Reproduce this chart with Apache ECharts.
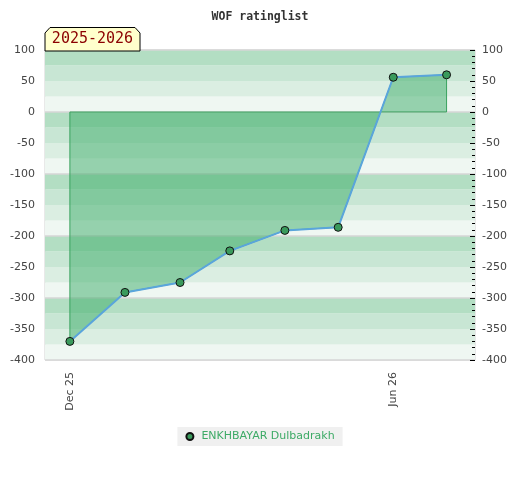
<!DOCTYPE html>
<html>
<head>
<meta charset="utf-8">
<script src="https://cdn.jsdelivr.net/npm/echarts@6/dist/echarts.min.js"></script>
<style>html,body{margin:0;padding:0;background:#fff}#c{width:520px;height:480px}</style>
</head>
<body>
<div id="c"></div>
<script>
// ---- data ----
const titleText = 'WOF ratinglist';
const seasonLabel = '2025-2026';
const playerName = 'ENKHBAYAR Dulbadrakh';
const months = ['2025-12-01','2026-01-01','2026-02-01','2026-03-01','2026-04-01','2026-05-01','2026-06-01','2026-07-01'];
const ratings = [-370, -291, -275, -224, -191, -186, 56, 60];
const xLabelDates = ['2025-12-01','2026-06-01'];
const xRange = ['2025-11-17','2026-07-17'];
const yMin = -400, yMax = 100, yStep = 50;

const ts = s => { const p = s.split('-').map(Number); return Date.UTC(p[0], p[1]-1, p[2]); };
const MON = ['Jan','Feb','Mar','Apr','May','Jun','Jul','Aug','Sep','Oct','Nov','Dec'];
const fmtDate = v => { const d = new Date(v); return MON[d.getUTCMonth()] + ' ' + String(d.getUTCFullYear()).slice(2); };

const points = months.map((m, i) => [ts(m), ratings[i]]);
const labelFont = 'DejaVu Sans';

const chart = echarts.init(document.getElementById('c'), null, {renderer: 'canvas'});
chart.setOption({
  animation: false,
  backgroundColor: '#fff',
  title: {
    text: titleText, left: 'center', top: 6,
    textStyle: {fontFamily: 'DejaVu Sans Mono', fontSize: 11.5, fontWeight: 'bold', color: '#333'}
  },
  grid: {left: 45, right: 45, top: 50, bottom: 120, show: true, borderColor: '#d2d2d2', borderWidth: 1, backgroundColor: 'transparent'},
  legend: {
    left: 'center', top: 427, padding: [4, 8, 4, 8], backgroundColor: '#f0f0f0',
    itemWidth: 7, itemHeight: 7,
    data: [{name: playerName, icon: 'circle'}],
    textStyle: {fontFamily: labelFont, fontSize: 11, color: '#3daa66', padding: [0, 0, 0, 3]}
  },
  xAxis: {
    type: 'value', min: ts(xRange[0]), max: ts(xRange[1]),
    axisLine: {show: false}, axisTick: {show: false}, splitLine: {show: false},
    axisLabel: {
      customValues: xLabelDates.map(ts), rotate: 90, margin: 12,
      formatter: v => fmtDate(v),
      fontFamily: labelFont, fontSize: 11, color: '#444'
    }
  },
  yAxis: [
    {
      type: 'value', position: 'left', min: yMin, max: yMax, interval: yStep,
      axisLine: {show: false}, axisTick: {show: false}, splitLine: {show: false},
      axisLabel: {margin: 10, fontFamily: labelFont, fontSize: 11, color: '#444'}
    },
    {
      type: 'value', position: 'right', min: yMin, max: yMax, interval: yStep,
      axisLine: {show: false},
      axisTick: {show: true, inside: true, length: 5, lineStyle: {color: '#000', width: 1}},
      minorTick: {show: true, splitNumber: 5, length: 3, lineStyle: {color: '#000', width: 1}},
      splitLine: {show: false},
      axisLabel: {margin: 7, fontFamily: labelFont, fontSize: 11, color: '#444'}
    },
    {
      type: 'value', position: 'left', min: yMin, max: yMax, interval: 25,
      axisLine: {show: false}, axisTick: {show: false}, axisLabel: {show: false}, splitLine: {show: false},
      splitArea: {show: true, areaStyle: {color: ['#eff7f2', '#dbeee2', '#c8e6d4', '#b3dec3']}}
    },
    {
      type: 'value', position: 'left', min: yMin, max: yMax, interval: 100,
      axisLine: {show: false}, axisTick: {show: false}, axisLabel: {show: false},
      splitLine: {show: true, lineStyle: {color: '#d6d6d6', width: 1.5}}
    }
  ],
  series: [
    {
      type: 'custom', name: 'area', silent: true, z: 1,
      xAxisIndex: 0, yAxisIndex: 0,
      data: [points[0]],
      renderItem: (params, api) => {
        const pts = points.map(p => api.coord(p));
        pts.push(api.coord([points[points.length - 1][0], 0]));
        pts.push(api.coord([points[0][0], 0]));
        return {
          type: 'polygon',
          shape: {points: pts},
          style: {fill: 'rgba(60,172,104,0.5)', stroke: '#3aa35f', lineWidth: 1}
        };
      }
    },
    {
      type: 'line', name: playerName, z: 3,
      xAxisIndex: 0, yAxisIndex: 0,
      data: points,
      symbol: 'circle', symbolSize: 8,
      lineStyle: {color: '#5aa5dc', width: 2},
      itemStyle: {color: '#3a9a5c', borderColor: '#111', borderWidth: 1}
    }
  ],
  graphic: [
    {
      type: 'polygon', z: 100,
      shape: {points: [[45, 51], [45, 33], [50, 27.5], [135, 27.5], [140, 33], [140, 51]]},
      style: {fill: '#ffffcc', stroke: '#000', lineWidth: 1}
    },
    {
      type: 'text', z: 101, x: 92.5, y: 39.5,
      style: {text: seasonLabel, fontFamily: 'DejaVu Sans Mono', fontSize: 15, fill: '#8b0000', align: 'center', verticalAlign: 'middle'}
    }
  ]
});
</script>
</body>
</html>
